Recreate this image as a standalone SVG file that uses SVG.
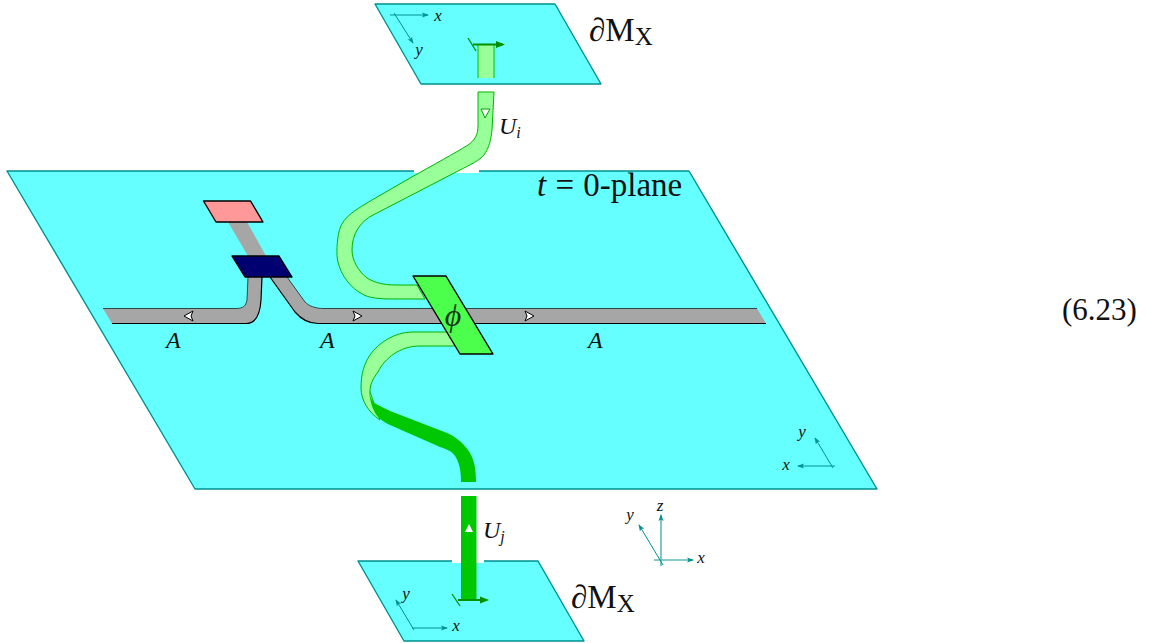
<svg xmlns="http://www.w3.org/2000/svg" width="1151" height="643" viewBox="0 0 1151 643">
<style>
.plane{fill:#66ffff;stroke:#009090;stroke-width:1.4;stroke-linejoin:round}
.gap{fill:#fff;stroke:none}
.gray{fill:#a6a6a6;stroke:none}
.edge{fill:none;stroke:#000;stroke-width:1.2}
.edget{fill:none;stroke:#2a4a4a;stroke-width:1}
.lg{fill:#99ff99;stroke:#00b400;stroke-width:1}
.dg{fill:#00c800;stroke:none}
.ax{fill:none;stroke:#009090;stroke-width:1;marker-end:url(#ah)}
.axz{fill:none;stroke:#5fb8b8;stroke-width:1.6;marker-end:url(#ah)}
.fr{fill:none;stroke:#009000;stroke-width:2;marker-end:url(#fa)}
.tick{fill:none;stroke:#009000;stroke-width:1.3}
.box{stroke:#000;stroke-width:1.4;stroke-linejoin:round}
.tri{fill:#fff;stroke:#000;stroke-width:1}
.m{font-family:"Liberation Serif",serif;fill:#111}
.i{font-style:italic}
.s{font-size:17px;font-style:italic;text-anchor:middle}
.l{font-size:24px;font-style:italic}
.b{font-size:33px}
</style>
<defs>
<marker id="ah" markerWidth="8" markerHeight="6" refX="6" refY="3" orient="auto" markerUnits="userSpaceOnUse"><path d="M0 0.5L7 3L0 5.500L1.500 3Z" fill="#009090"/></marker>
<marker id="fa" markerWidth="10" markerHeight="8" refX="7" refY="4" orient="auto" markerUnits="userSpaceOnUse"><path d="M0 0.500L9 4L0 7.500Z" fill="#009000"/></marker>
</defs>

<g id="plane-main">
<path class="plane" d="M7 171H689L877 489H195Z"/>
<rect class="gap" x="414" y="169" width="65" height="4"/>
</g>
<g id="plane-top">
<path class="plane" d="M375 4H555L601 84H421Z"/>
</g>
<g id="plane-bottom">
<path class="plane" d="M358 561H538L584 641H404Z"/>
<rect class="gap" x="452" y="559" width="32" height="4"/>
</g>

<g id="connectors">
<path class="gray" d="M228 222H247L266 256H248Z"/>
<path class="gray" d="M287 277L305 302C309 306 315 308.500 324 308.500H757L766 323.500H318C308 323.500 301 319 295 312L270 277Z"/>
<path class="edget" d="M287 277L305 302C309 306 315 308.500 324 308.500H757"/>
<path class="edge" d="M270 277L295 312C301 319 308 323.500 318 323.500H766"/>
<path class="gray" d="M103 308.500H236C243 308.500 246 306 247 300L248 277H262L261 300C260 316 255 323.500 246 323.500H112Z"/>
<path class="edget" d="M103 308.500H236C243 308.500 246 306 247 300L248 277"/>
<path class="edge" d="M262 277L261 300C260 316 255 323.500 246 323.500H112"/>

<path class="lg" d="M478 92V125C478 135 475 140 468 145C455 153 435 164 410 178L372 200C352 212 342 218 339 232C337 240 336 255 338 262C341 275 350 288 364 295C372 299 385 299 397 299H425L417 285H395C385 285 375 283 367 278C358 271 352 260 352 250C352 234 360 221 375 214L460 170C470 165 480 160 484 155C489 148 491 140 492 130L494 92Z"/>
<path class="lg" d="M449 332H412C395 332 378 343 370 355C364 364 361 374 361 388C361 400 368 412 380 420L370 392C370 385 372 380 378 372C385 358 400 346 420 346H457Z"/>
<path class="dg" d="M369 388C370 396 371 401 376 404L390 411L447 433C456 437 463 443 468 450C474 458 476 468 476 482H461C461 470 459 462 455 456C452 451 446 449 440 447L390 425C384 422 381 420 378 417C372 410 369 398 369 388Z"/>
<rect class="dg" x="461" y="496" width="15.500" height="105"/>
<rect x="478" y="44" width="16" height="34" fill="#99ff99" stroke="none"/>
<path d="M478 44V78M494 44V78" fill="none" stroke="#00c000" stroke-width="1"/>

<path class="fr" d="M473 44.500H503"/>
<path class="tick" d="M468 38L476 51"/>
<path class="fr" d="M458 600H487"/>
<path class="tick" d="M452 594L460 606"/>

<path class="tri" d="M193 311L184 316L193 321L191 316Z"/>
<path class="tri" d="M353 311L362 316L353 321L355 316Z"/>
<path class="tri" d="M525 311L534 316L525 321L527 316Z"/>
<path d="M481 109H490L485 118Z" fill="#fff" stroke="#00a000" stroke-width="1"/>
<path d="M465 532L469 524L473 532Z" fill="#fff"/>

<path class="ax" d="M390 15H428"/>
<path class="ax" d="M394 13L413 43"/>
<path class="ax" d="M835 466H798"/>
<path class="ax" d="M833 468L815 438"/>
<path class="axz" d="M661 566V515"/>
<path class="axz" d="M654 560H693"/>
<path class="ax" d="M663 565L639 525"/>
<path class="ax" d="M412 628H447"/>
<path class="ax" d="M414 630L396 600"/>
</g>

<g id="node-pink"><path class="box" fill="#ff9999" d="M203.500 201H250.500L263 222H216Z"/></g>
<g id="node-blue"><path class="box" fill="#000070" d="M232 256H279L292 277H245Z"/></g>
<g id="node-phi">
<path class="box" fill="#4dff4d" d="M413 276H446L493 354H460Z"/>
<text class="m i" x="453" y="326" font-size="32" text-anchor="middle" fill-opacity="0.85">ϕ</text>
</g>

<g id="labels">
<text class="m s" x="438" y="21">x</text>
<text class="m s" x="419" y="55">y</text>
<text class="m s" x="786" y="470">x</text>
<text class="m s" x="802" y="437">y</text>
<text class="m s" x="660" y="511">z</text>
<text class="m s" x="701" y="563">x</text>
<text class="m s" x="630" y="520">y</text>
<text class="m s" x="456" y="631">x</text>
<text class="m s" x="406" y="599">y</text>
<text class="m l" x="166" y="348">A</text>
<text class="m l" x="320" y="348">A</text>
<text class="m l" x="588" y="348">A</text>
<text class="m l" x="499" y="134">U<tspan font-size="16" dy="4">i</tspan></text>
<text class="m l" x="483" y="538">U<tspan font-size="16" dy="4">j</tspan></text>
<text class="m b" x="589" y="41">∂M<tspan font-size="25" dy="4">X</tspan></text>
<text class="m b" x="571" y="608">∂M<tspan font-size="25" dy="4">X</tspan></text>
<text class="m b" x="537" y="196" word-spacing="1"><tspan class="i">t</tspan> = 0-plane</text>
<text class="m" font-size="31" x="1062" y="320">(6.23)</text>
</g>
</svg>
